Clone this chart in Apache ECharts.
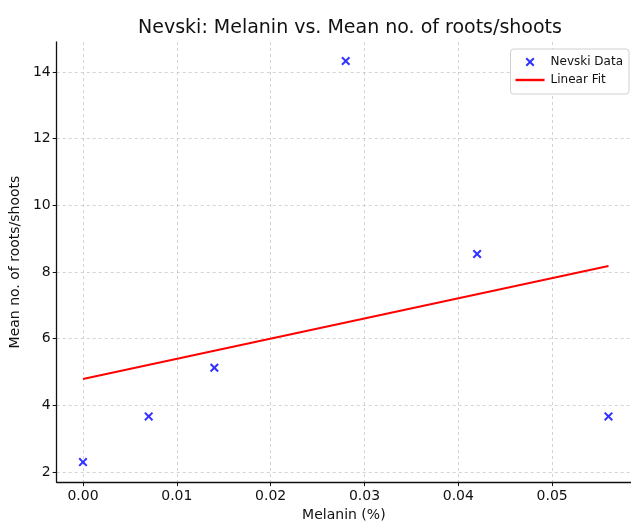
<!DOCTYPE html>
<html>
<head>
<meta charset="utf-8">
<script src="https://cdn.jsdelivr.net/npm/echarts@6/dist/echarts.min.js"></script>
<style>
  html, body { margin: 0; padding: 0; background: #fff; }
  #chart { width: 631px; height: 527px; }
</style>
</head>
<body>
<div id="chart"></div>
<script>
// melanin (%) and mean number of roots/shoots
const melanin = [0, 0.007, 0.014, 0.028, 0.042, 0.056];
const roots = [2.3, 3.67, 5.13, 14.33, 8.54, 3.67];
// linear fit end points
const fitX = [0, 0.056];
const fitY = [4.79, 8.18];
const xTicks = [0, 0.01, 0.02, 0.03, 0.04, 0.05];
const yTicks = [2, 4, 6, 8, 10, 12, 14];

const font = 'DejaVu Sans';
const crossPath = 'path://M0,1.6L1.6,0L5,3.4L8.4,0L10,1.6L6.6,5L10,8.4L8.4,10L5,6.6L1.6,10L0,8.4L3.4,5Z';

const chart = echarts.init(document.getElementById('chart'));
const gridLine = { show: true, lineStyle: { color: '#c8c8c8', type: [3, 3], width: 0.8 } };

chart.setOption({
  animation: false,
  textStyle: { fontFamily: font },
  title: {
    text: 'Nevski: Melanin vs. Mean no. of roots/shoots',
    left: 345, top: 14, textAlign: 'center',
    textStyle: { fontFamily: font, fontSize: 19, fontWeight: 'normal', color: '#111' },
  },
  grid: { left: 56, right: 0, top: 42, bottom: 44 },
  legend: {
    right: 2, top: 49, orient: 'vertical',
    backgroundColor: '#fff',
    borderColor: '#d0d0d0', borderWidth: 1, borderRadius: 3,
    padding: [7, 6, 8, 5], itemGap: 6, itemWidth: 29, itemHeight: 9,
    textStyle: { fontFamily: font, fontSize: 12, color: '#111', padding: [0, 0, 0, 1] },
    data: [
      { name: 'Nevski Data', icon: crossPath, itemStyle: { color: '#0000ff' } },
      { name: 'Linear Fit', icon: 'path://M0,0L29,0L29,2.4L0,2.4Z', itemStyle: { color: '#ff0000' } },
    ],
  },
  xAxis: {
    type: 'value', min: -0.0028, max: 0.0584,
    name: 'Melanin (%)', nameLocation: 'middle', nameGap: 25,
    nameTextStyle: { fontFamily: font, fontSize: 14, color: '#111' },
    axisLine: { show: true, onZero: false, lineStyle: { color: '#111', width: 1.3 } },
    axisTick: { show: true, length: 4, customValues: xTicks, lineStyle: { color: '#111' } },
    axisLabel: { customValues: xTicks, fontSize: 14, color: '#111', margin: 7, formatter: v => v.toFixed(2) },
    splitLine: gridLine,
  },
  yAxis: {
    type: 'value', min: 1.7, max: 14.9,
    name: 'Mean no. of roots/shoots', nameLocation: 'middle', nameGap: 27,
    nameTextStyle: { fontFamily: font, fontSize: 14, color: '#111' },
    axisLine: { show: true, onZero: false, lineStyle: { color: '#111', width: 1.3 } },
    axisTick: { show: true, length: 4, customValues: yTicks, lineStyle: { color: '#111' } },
    axisLabel: { customValues: yTicks, fontSize: 14, color: '#111', margin: 6 },
    splitLine: gridLine,
  },
  series: [
    {
      name: 'Linear Fit', type: 'line', symbol: 'none',
      data: fitX.map((x, i) => [x, fitY[i]]),
      lineStyle: { color: '#ff0000', width: 2 },
      itemStyle: { color: '#ff0000' },
      z: 2,
    },
    {
      name: 'Nevski Data', type: 'scatter',
      symbol: crossPath, symbolSize: 9,
      data: melanin.map((x, i) => [x, roots[i]]),
      itemStyle: { color: '#0000ff' },
      z: 3,
    },
  ],
});
</script>
</body>
</html>
